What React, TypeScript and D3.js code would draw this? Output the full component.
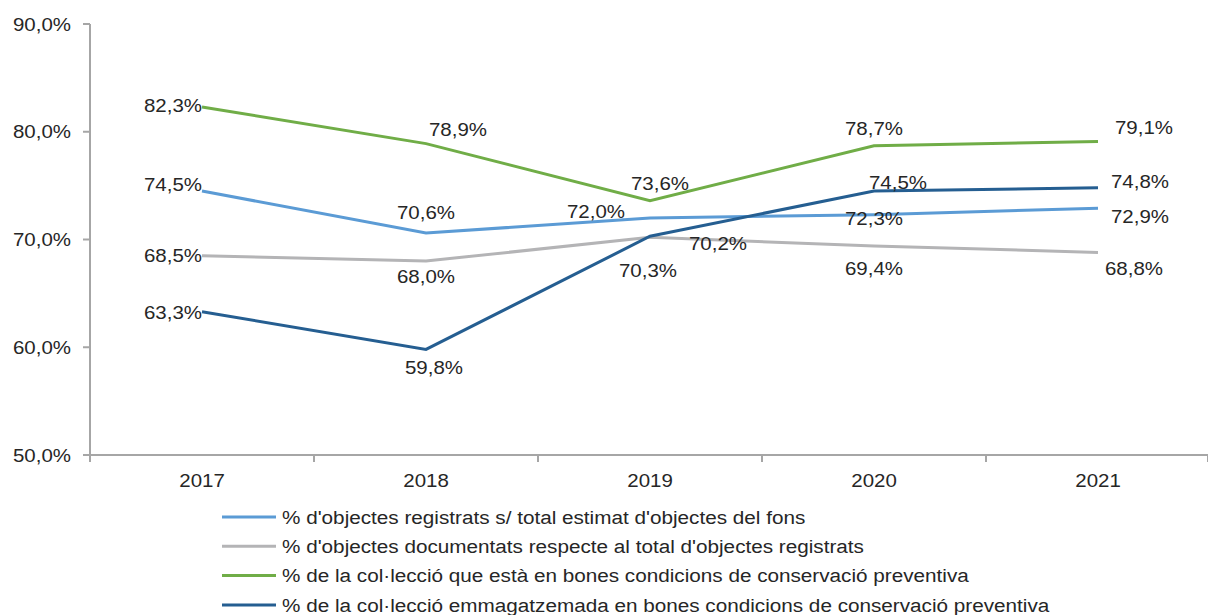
import React from "react";
import * as d3 from "d3";

const years = ["2017", "2018", "2019", "2020", "2021"];
const seriesNames = [
  "% d'objectes registrats s/ total estimat d'objectes del fons",
  "% d'objectes documentats respecte al total d'objectes registrats",
  "% de la col·lecció que està en bones condicions de conservació preventiva",
  "% de la col·lecció emmagatzemada en bones condicions de conservació preventiva",
];
const registrats = [74.5, 70.6, 72.0, 72.3, 72.9];
const documentats = [68.5, 68.0, 70.2, 69.4, 68.8];
const conservacio = [82.3, 78.9, 73.6, 78.7, 79.1];
const emmagatzemada = [63.3, 59.8, 70.3, 74.5, 74.8];
const yTicks = [50, 60, 70, 80, 90];

const colors = ["#5B9BD5", "#B4B4B6", "#70AD47", "#255E91"];

// label placement: [anchor, dx, dy(center offset)]
type P = [string, number, number];
const labelPos: P[][] = [
  [["end", 0, -7], ["middle", 0, -21], ["middle", -54, -6], ["middle", 0, 4], ["middle", 42, 8]],
  [["end", 0, 0], ["middle", 0, 15], ["middle", 68, 6], ["middle", 0, 23], ["middle", 36, 16]],
  [["end", 0, -1], ["middle", 32, -14], ["middle", 10, -17], ["middle", 0, -17], ["middle", 46, -14]],
  [["end", 0, 1], ["middle", 8, 18], ["middle", -2, 34], ["middle", 24, -9], ["middle", 42, -6]],
];

const fmt = (v: number) => v.toFixed(1).replace(".", ",") + "%";
const textColor = "#262626";

function T(props: { x: number; y: number; anchor?: string; size?: number; sx?: number; children: React.ReactNode }) {
  const { x, y, anchor = "start", size = 18.6, sx = 1.1, children } = props;
  return (
    <text
      transform={`translate(${x},${y}) scale(${sx},1)`}
      dy="0.35em"
      textAnchor={anchor as any}
      fontSize={size}
      fill={textColor}
    >
      {children}
    </text>
  );
}

export default function App() {
  const W = 1208, H = 615;
  const x0 = 90, x1 = 1210;
  const yTop = 24, yBot = 455;
  const x = d3.scaleBand<string>().domain(years).range([x0, x1]);
  const y = d3.scaleLinear().domain([50, 90]).range([yBot, yTop]);
  const data = [registrats, documentats, conservacio, emmagatzemada];
  const cx = (i: number) => (x(years[i]) as number) + x.bandwidth() / 2;
  const line = d3
    .line<number>()
    .x((_, i) => cx(i))
    .y((d) => y(d));
  const font = "'Liberation Sans', Arial, sans-serif";
  const axisColor = "#A6A6A6";
  const bounds = [...years.map((yr) => x(yr) as number), x1 - 2];
  return (
    <svg width={W} height={H} style={{ position: "absolute", left: 0, top: 0 }} fontFamily={font}>
      {/* y axis */}
      <line x1={x0} x2={x0} y1={yTop} y2={yBot + 7} stroke={axisColor} strokeWidth={2} />
      {yTicks.map((t) => (
        <g key={t}>
          <line x1={x0 - 7} x2={x0} y1={y(t)} y2={y(t)} stroke={axisColor} strokeWidth={2} />
          <T x={71} y={y(t)} anchor="end">{fmt(t)}</T>
        </g>
      ))}
      {/* x axis */}
      <line x1={x0} x2={W} y1={yBot} y2={yBot} stroke={axisColor} strokeWidth={2} />
      {bounds.map((b, i) => (
        <line key={i} x1={b} x2={b} y1={yBot} y2={yBot + 7} stroke={axisColor} strokeWidth={2} />
      ))}
      {years.map((yr, i) => (
        <T key={yr} x={cx(i)} y={480} anchor="middle">{yr}</T>
      ))}
      {/* lines */}
      {data.map((s, si) => (
        <path key={si} d={line(s) || ""} fill="none" stroke={colors[si]} strokeWidth={3} />
      ))}
      {/* labels */}
      {data.map((s, si) =>
        s.map((v, i) => {
          const [anchor, dx, dy] = labelPos[si][i];
          return (
            <T key={si + "-" + i} x={cx(i) + dx} y={y(v) + dy} anchor={anchor}>
              {fmt(v)}
            </T>
          );
        })
      )}
      {/* legend */}
      {seriesNames.map((n, i) => {
        const ly = 517 + i * 29.3;
        return (
          <g key={n}>
            <line x1={222} x2={276} y1={ly} y2={ly} stroke={colors[i]} strokeWidth={3} />
            <T x={282} y={ly} size={19} sx={1.09}>{n}</T>
          </g>
        );
      })}
    </svg>
  );
}
